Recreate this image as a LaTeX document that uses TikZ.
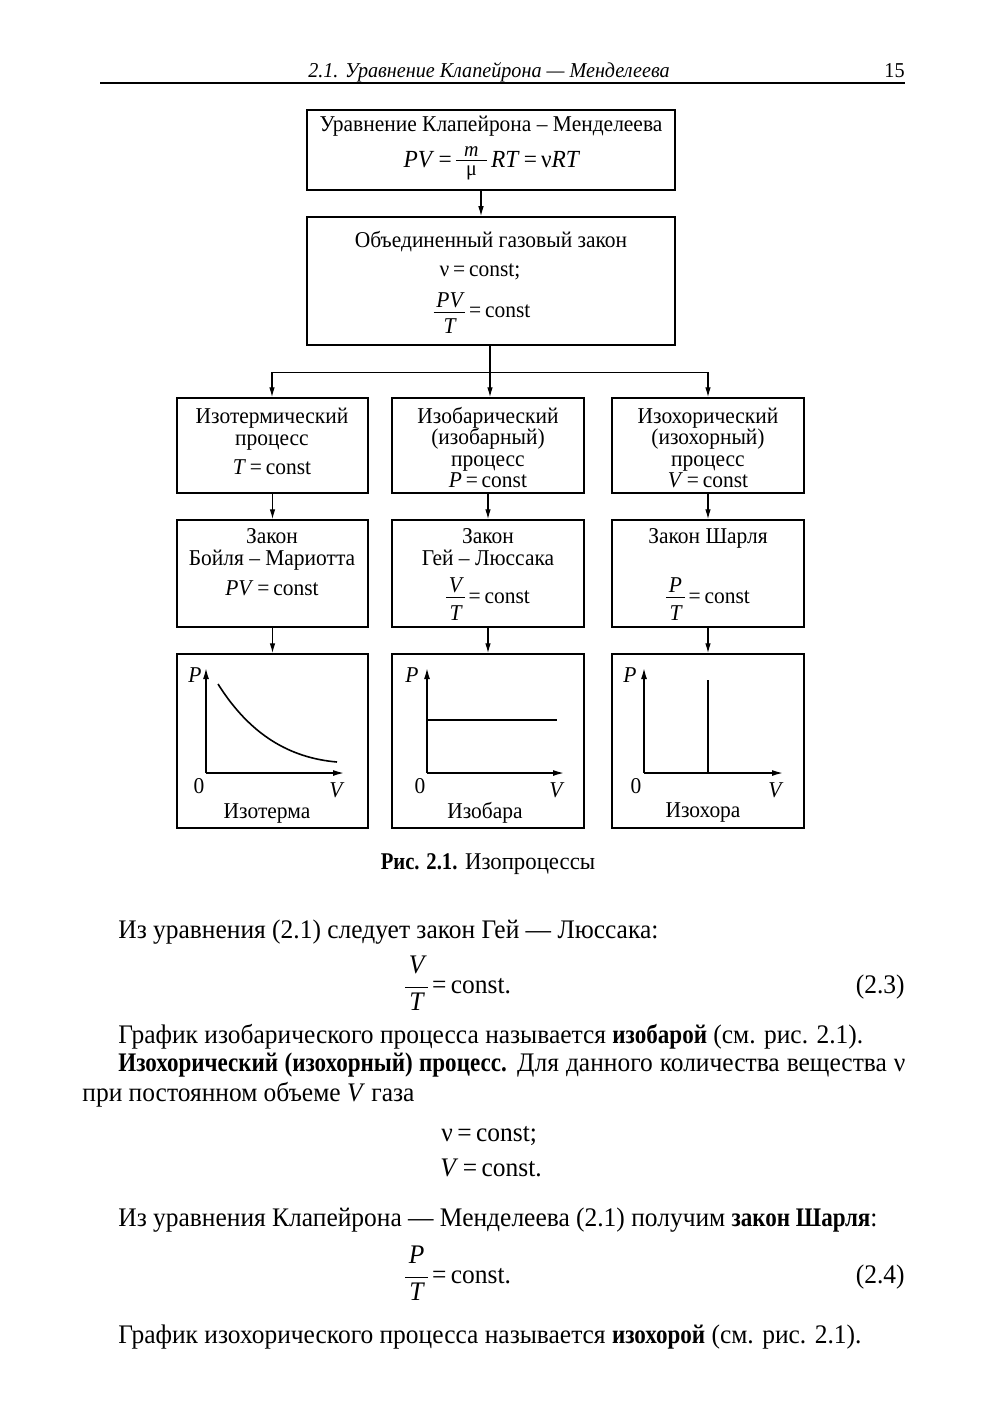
\documentclass[tikz,border=0pt]{standalone}
\usepackage{fontspec}
\setmainfont{Liberation Serif}[FakeStretch=0.95, BoldFeatures={FakeStretch=0.86}]
\usetikzlibrary{arrows.meta,calc}
\newcommand\fsbody{\fontsize{13.4pt}{15pt}\selectfont}
\newcommand\fsbox{\fontsize{11.3pt}{13.5pt}\selectfont}
\newcommand\fsformula{\fontsize{12.3pt}{14pt}\selectfont}
\newcommand\fshdr{\fontsize{10.6pt}{13pt}\selectfont}
\newcommand\fscap{\fontsize{12pt}{14pt}\selectfont}
\newcommand\fsfrac{\fontsize{10.5pt}{12pt}\selectfont}
% #1 bar raise, #2 num baseline above bar, #3 den baseline below bar, #4 num, #5 den
\newcommand\frcx[5]{%
 \setbox0\hbox{#4}\setbox2\hbox{#5}%
 \dimen0=\ifdim\wd0>\wd2 \wd0\else\wd2\fi
 \advance\dimen0 by 0.25em
 \hbox{\raise#1\hbox{\rlap{\raise#2\hbox to\dimen0{\hss\box0\hss}}\rlap{\lower#3\hbox to\dimen0{\hss\box2\hss}}\vrule width\dimen0 height0.5pt depth0pt}}}
\newcommand\eqq{\,=\,}
\begin{document}
\begin{tikzpicture}[x=0.5pt,y=-0.5pt,
  box/.style={draw, line width=0.75pt, inner sep=0pt},
  arr/.style={-{Latex[length=5pt,width=2.8pt]}, line width=0.6pt},
  axis/.style={-{Latex[length=5.5pt,width=3pt]}, line width=0.7pt},
  btxt/.style={anchor=base, font=\fsbox, inner sep=0pt},
  body/.style={anchor=base west, font=\fsbody, inner sep=0pt},
]
\useasboundingbox[fill=white] (0,0) rectangle (1000,1423);

% header
\node[anchor=base, font=\fshdr\itshape, inner sep=0pt] (hdr) at (489,78) {2.1. Уравнение Клапейрона — Менделеева};
\node[anchor=base east, font=\fshdr, inner sep=0pt] (pg) at (905,78) {15};
\draw[line width=0.9pt] (100,83) -- (905,83);

% boxes
\node[box, minimum width=184pt, minimum height=40pt] (b1) at (491,150) {};
\node[box, minimum width=184pt, minimum height=64pt] (b2) at (491,281) {};
\foreach \n/\cx/\w in {l/272.5/95.5, m/488/96, r/708/96}{
  \node[box, minimum width=\w pt, minimum height=47.5pt] (r3\n) at (\cx,445.5) {};
  \node[box, minimum width=\w pt, minimum height=53.5pt] (r4\n) at (\cx,573.5) {};
  \node[box, minimum width=\w pt, minimum height=87pt] (r5\n) at (\cx,741) {};
}

% box 1 text
\node[btxt] (t1a) at (491,132) {Уравнение Клапейрона – Менделеева};
\node[btxt, font=\fsformula] (t1b) at (492,168) {\textit{PV}\eqq\frcx{3.5pt}{2pt}{7.5pt}{\fsfrac\itshape\kern0.25em m\kern0.25em}{\fsfrac μ}\,\textit{RT}\eqq ν\textit{RT}};
% box 2 text
\node[btxt] (t2a) at (491,248) {Объединенный газовый закон};
\node[btxt] (t2b) at (480,277) {ν\eqq const;};
\node[btxt] (t2c) at (482,317) {\frcx{2pt}{3pt}{10pt}{\itshape PV}{\itshape T}\eqq const};

% row 3 text
\node[btxt] at (272,423) {Изотермический};
\node[btxt] at (272,445) {процесс};
\node[btxt] at (272,474) {\textit{T}\eqq const};
\node[btxt] at (488,423) {Изобарический};
\node[btxt] at (488,444) {(изобарный)};
\node[btxt] at (488,466) {процесс};
\node[btxt] at (488,487) {\textit{P}\eqq const};
\node[btxt] at (708,423) {Изохорический};
\node[btxt] at (708,444) {(изохорный)};
\node[btxt] at (708,466) {процесс};
\node[btxt] at (708,487) {\textit{V}\eqq const};

% row 4 text
\node[btxt] at (272,543) {Закон};
\node[btxt] at (272,565) {Бойля – Мариотта};
\node[btxt] at (272,595) {\textit{PV}\eqq const};
\node[btxt] at (488,543) {Закон};
\node[btxt] at (488,565) {Гей – Люссака};
\node[btxt] at (488,603) {\frcx{2.5pt}{3pt}{11pt}{\itshape V}{\itshape T}\eqq const};
\node[btxt] at (708,543) {Закон Шарля};
\node[btxt] at (708,603) {\frcx{2.5pt}{3pt}{11pt}{\itshape P}{\itshape T}\eqq const};

% connectors
\draw[arr] ($(b1.south)+(-10,0)$) -- ($(b2.north)+(-10,0)$);
\coordinate (j) at ($(b2.south)+(-1,27)$);
\draw[line width=0.6pt] ($(b2.south)+(-1,0)$) -- (j);
\draw[arr] (j) -- (j |- r3m.north);
\draw[arr] (j) -| ($(r3l.north)+(-0.5,0)$);
\draw[arr] (j) -| (r3r.north);
\foreach \n in {l,m,r}{
  \draw[arr] (r3\n.south) -- (r4\n.north);
  \draw[arr] (r4\n.south) -- (r5\n.north);
}

% graphs
\begin{scope}[font=\fsbox]
% isotherm
\draw[axis] (206,773) -- (206,668);
\draw[axis] (206,773) -- (344,773);
\draw[line width=0.8pt] (218,684) .. controls (250,735) and (290,758) .. (337,762);
\node[font=\fsbox\itshape] at (195,675) {P};
\node at (199,786) {0};
\node[font=\fsbox\itshape] at (336,790) {V};
\node[anchor=base] at (267,818) {Изотерма};
% isobar
\draw[axis] (427,773) -- (427,668);
\draw[axis] (427,773) -- (564,773);
\draw[line width=0.8pt] (427,720) -- (557,720);
\node[font=\fsbox\itshape] at (412,675) {P};
\node at (420,786) {0};
\node[font=\fsbox\itshape] at (556,790) {V};
\node[anchor=base] at (485,818) {Изобара};
% isochore
\draw[axis] (644,773) -- (644,668);
\draw[axis] (644,773) -- (783,773);
\draw[line width=0.8pt] (708,680) -- (708,773);
\node[font=\fsbox\itshape] at (630,675) {P};
\node at (636,786) {0};
\node[font=\fsbox\itshape] at (775,790) {V};
\node[anchor=base] at (703,817) {Изохора};
\end{scope}

% caption
\node[anchor=base, font=\fscap, inner sep=0pt] (cap) at (488,869) {\textbf{Рис. 2.1.} Изопроцессы};

% body text
\node[body] (p1) at (118,938) {Из уравнения (2.1) следует закон Гей — Люссака:};
\node[body] (e23) at (405,993) {\frcx{2.5pt}{7.5pt}{11pt}{\itshape V}{\itshape T}\eqq const.};
\node[anchor=base east, font=\fsbody, inner sep=0pt] (n23) at (905,993) {(2.3)};
\node[body] (p2) at (118,1043) {График изобарического процесса называется \textbf{изобарой} (см. рис. 2.1).};
\node[body] (p3) at (118,1071) {\hbox to 393.5pt{\textbf{Изохорический (изохорный) процесс.} Для данного количества вещества ν}};
\node[body] (p4) at (82,1101) {при постоянном объеме \textit{V} газа};
\node[body] (e1) at (441,1141) {ν\eqq const;};
\node[body] (e2) at (440,1176) {\textit{V}\eqq const.};
\node[body] (p5) at (118,1226) {Из уравнения Клапейрона — Менделеева (2.1) получим \textbf{закон Шарля}:};
\node[body] (e24) at (405,1283) {\frcx{2.5pt}{7.5pt}{11pt}{\itshape P}{\itshape T}\eqq const.};
\node[anchor=base east, font=\fsbody, inner sep=0pt] (n24) at (905,1283) {(2.4)};
\node[body] (p6) at (118,1343) {График изохорического процесса называется \textbf{изохорой} (см. рис. 2.1).};
\end{tikzpicture}
\end{document}
